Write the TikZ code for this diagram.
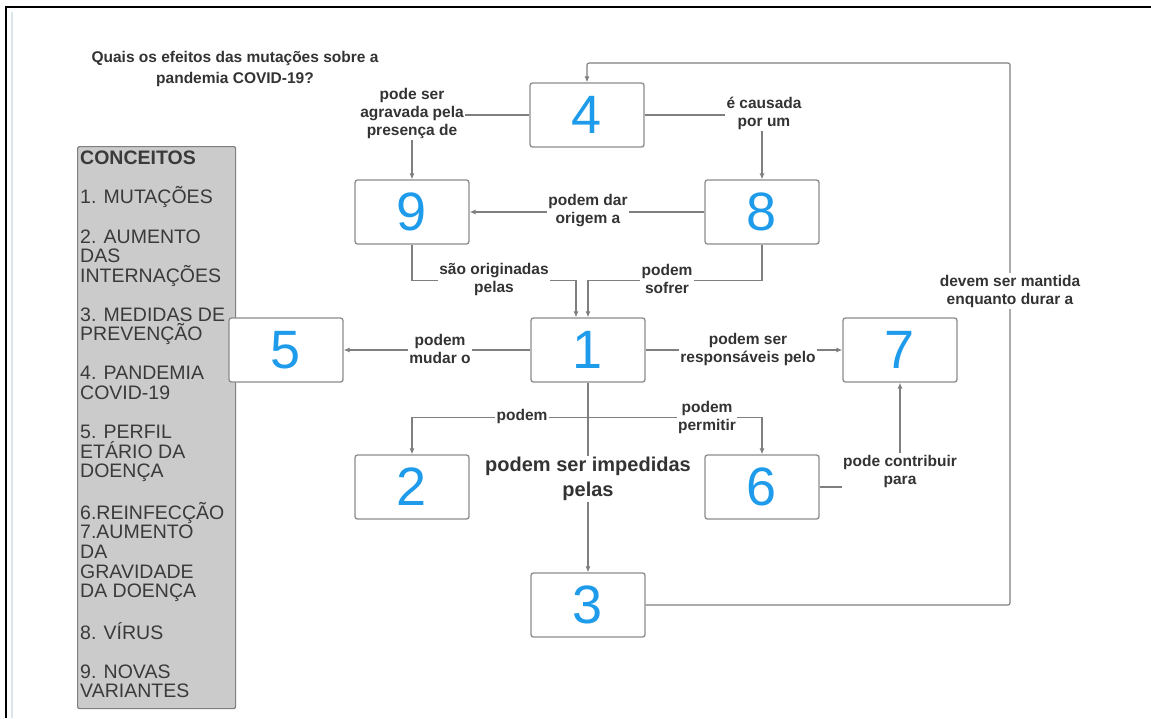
\documentclass[tikz,border=0pt]{standalone}
\usepackage{fontspec}
\setmainfont{Liberation Sans}
\usetikzlibrary{arrows.meta}
\definecolor{linegray}{HTML}{7F7F7F}
\definecolor{boxgray}{HTML}{8C8C8C}
\definecolor{numblue}{HTML}{1E9BEA}
\definecolor{txt}{HTML}{333333}
\definecolor{listtxt}{HTML}{3A3A3A}
\definecolor{panel}{HTML}{CBCBCB}
\definecolor{edge}{HTML}{DCE6EA}

\begin{document}
\begin{tikzpicture}[x=1pt,y=-1pt,
  numbox/.style={draw=boxgray, line width=1.3pt, fill=white, rounded corners=2.5pt,
    minimum width=114pt, minimum height=64pt, inner sep=0pt,
    font=\fontsize{54}{54}\selectfont, text=numblue},
  lab/.style={fill=white, inner sep=1.5pt, align=center,
    font=\bfseries\fontsize{15.5}{18}\selectfont, text=txt},
  conn/.style={draw=linegray, line width=1.1pt, -{Latex[length=6pt,width=5pt]}}
]
% canvas and frame
\fill[white] (0,0) rectangle (1151,718);
\useasboundingbox (0,0) rectangle (1151,718);
\draw[edge, line width=1.2pt] (12,12) -- (12,718);
\draw[black, line width=2.5pt] (6,718) -- (6,7) -- (1151,7);

% title
\node[font=\bfseries\fontsize{15.5}{21}\selectfont, text=txt, align=center] (title) at (235,69)
  {Quais os efeitos das mutações sobre a\\pandemia COVID-19?};

% concept list
\node[draw=linegray, fill=panel, line width=1.2pt, rounded corners=2pt,
  minimum width=158pt, minimum height=562pt, anchor=north west, inner sep=0pt] (panel) at (77,146) {};
\node[anchor=north west, align=left, inner sep=0pt, text=listtxt,
  font=\fontsize{19.5}{19.55}\selectfont] (plist) at (80,151)
  {\textbf{CONCEITOS}\\[19.55pt]
   1. MUTAÇÕES\\[19.55pt]
   2. AUMENTO\\DAS\\INTERNAÇÕES\\[19.55pt]
   3. MEDIDAS DE\\PREVENÇÃO\\[19.55pt]
   4. PANDEMIA\\COVID-19\\[19.55pt]
   5. PERFIL\\ETÁRIO DA\\DOENÇA\\[19.55pt]
   6.REINFECÇÃO\\7.AUMENTO\\DA\\GRAVIDADE\\DA DOENÇA\\[19.55pt]
   8. VÍRUS\\[19.55pt]
   9. NOVAS\\VARIANTES};

% concept boxes
\node[numbox] (b4) at (587,115) {4};
\node[numbox] (b9) at (412,212) {9};
\node[numbox] (b8) at (762,212) {8};
\node[numbox] (b1) at (588,350) {1};
\node[numbox] (b5) at (286,350) {5};
\node[numbox] (b7) at (900,350) {7};
\node[numbox] (b2) at (412,487) {2};
\node[numbox] (b6) at (762,487) {6};
\node[numbox] (b3) at (588,605) {3};

% connectors
\draw[conn] (b4.west) -| (b9.north);
\draw[conn] (b4.east) -| (b8.north);
\draw[conn] (b8.west) -- (b9.east);
\draw[conn] (b9.south) -- ++(0,36) -| ([xshift=-12pt]b1.north);
\draw[conn] (b8.south) -- ++(0,36) -| (b1.north);
\draw[conn] (b1.west) -- (b5.east);
\draw[conn] (b1.east) -- (b7.west);
\draw[conn] (b1.south) -- (b3.north);
\draw[conn] (b1.south) -- ++(0,35) -| (b2.north);
\draw[conn] (b1.south) -- ++(0,35) -| (b6.north);
\draw[conn] (b6.east) -| (b7.south);
\coordinate (loop) at (1010,63);
\draw[conn, rounded corners=2pt] (b3.east) -| (loop) -| (b4.north);

% connector labels
\node[lab] (l49) at (412,113) {pode ser\\agravada pela\\presença de};
\node[lab] (l48) at (764,113) {é causada\\por um};
\node[lab] (l89) at (588,211) {podem dar\\origem a};
\node[lab] (l91) at (494,279) {são originadas\\pelas};
\node[lab] (l81) at (667,279) {podem\\sofrer};
\node[lab] (l15) at (440,349) {podem\\mudar o};
\node[lab] (l17) at (748,349) {podem ser\\responsáveis pelo};
\node[lab, inner ysep=0pt] (l12) at (522,416) {podem};
\node[lab] (l16) at (707,417) {podem\\permitir};
\node[lab, font=\bfseries\fontsize{20}{25}\selectfont] (l13) at (588,479) {podem ser impedidas\\pelas};
\node[lab] (l67) at (900,471) {pode contribuir\\para};
\node[lab] (l34) at (1010,291) {devem ser mantida\\enquanto durar a};
\end{tikzpicture}
\end{document}
